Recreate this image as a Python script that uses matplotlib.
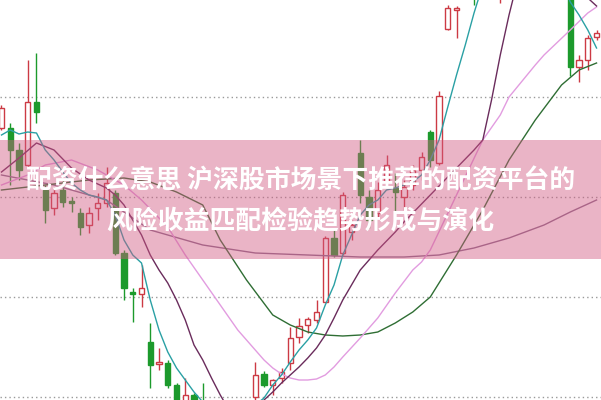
import numpy as np
import matplotlib
matplotlib.use('Agg')
import matplotlib.pyplot as plt

plt.rcParams['font.family'] = ['Noto Sans CJK SC', 'DejaVu Sans']

# candle data (index order), price units
opens  = [372, 372, 350, 335, 398, 310, 292, 310, 299, 287, 275, 292, 297, 307, 247, 208, 206,
          158, 136, 137, 115, 98, 105, 95, 82, 62, 72, 60, 78, 103, 126, 115, 122, 137, 163, 175,
          180, 198, 262, 247, 268, 347, 303, 287, 318, 312, 303, 315, 330, 368, 337, 471, 490,
          505, 540, 515, 552, 520, 550, 528, 562, 540, 575, 548, 528, 505, 433, 440, 463]
highs  = [395, 377, 357, 440, 447, 315, 313, 320, 303, 292, 293, 307, 333, 310, 250, 212, 235,
          177, 152, 140, 117, 122, 107, 117, 88, 82, 78, 86, 98, 138, 129, 121, 132, 173, 182, 183,
          200, 264, 270, 308, 280, 360, 310, 318, 345, 327, 320, 335, 348, 370, 409, 495, 494,
          548, 548, 560, 560, 555, 558, 568, 570, 582, 580, 555, 535, 510, 445, 465, 470]
lows   = [370, 315, 320, 332, 377, 277, 285, 293, 288, 265, 267, 280, 293, 245, 200, 178, 193,
          112, 130, 112, 90, 90, 85, 75, 58, 55, 50, 55, 72, 100, 113, 105, 117, 130, 157, 167,
          177, 198, 243, 245, 260, 297, 272, 283, 313, 287, 290, 310, 320, 333, 335, 470, 462,
          502, 495, 508, 515, 497, 518, 520, 530, 532, 538, 515, 503, 424, 418, 430, 460]
closes = [392, 350, 330, 398, 388, 290, 307, 298, 297, 273, 287, 297, 317, 247, 212, 206, 212,
          135, 138, 115, 95, 105, 90, 80, 65, 75, 58, 80, 92, 125, 115, 120, 128, 162, 174, 181,
          188, 262, 245, 305, 275, 305, 280, 310, 335, 308, 313, 330, 343, 340, 404, 492, 492,
          540, 512, 550, 525, 548, 525, 560, 538, 575, 545, 525, 510, 433, 440, 462, 467]

# moving averages: (candle index, value)
ma5_idx = [0, 1, 2, 3, 4, 5, 6, 7, 8, 9, 10, 11, 12, 13, 14, 15, 16, 17, 18, 19, 20, 21, 22, 23,
           24, 25, 26, 27, 28, 29, 30, 31, 32, 33, 34, 35, 36, 37, 38, 39, 40, 41, 42, 43, 44, 45,
           46, 47, 48, 49, 50, 51, 52, 53, 54, 55, 56, 58, 60, 62, 64, 65, 66, 67, 68]
ma5_val = [365, 370, 366, 368, 367, 350, 340, 328, 317, 310, 305, 303, 300, 285, 260, 245, 237,
           200, 170, 148, 132, 120, 108, 98, 85, 78, 75, 80, 88, 95, 102, 115, 125, 138, 150, 160,
           172, 195, 215, 245, 265, 285, 295, 300, 310, 312, 315, 318, 325, 340, 360, 393, 425,
           455, 487, 515, 540, 560, 565, 555, 520, 498, 485, 470, 452]
ma10_idx = [0, 2, 4, 6, 8, 10, 12, 13, 14, 15, 16, 17, 18, 19, 20, 21, 22, 23, 24, 25, 26, 27,
            28, 29, 30, 31, 32, 33, 34, 35, 36, 37, 38, 39, 40, 41, 42, 43, 44, 45, 46, 47, 48,
            49, 50, 51, 52, 53, 54, 55, 56, 57, 58, 59, 62, 65, 66, 67, 68]
ma10_val = [328, 342, 357, 350, 332, 320, 312, 305, 295, 280, 265, 245, 230, 217, 200, 180, 155,
            140, 122, 105, 90, 85, 88, 92, 100, 108, 117, 125, 133, 142, 152, 165, 182, 200, 215,
            230, 240, 250, 259, 268, 278, 287, 296, 305, 314, 323, 332, 341, 350, 360, 400, 445,
            485, 520, 560, 530, 515, 502, 494]
ma20_idx = [0, 3, 5, 8, 11, 14, 16, 18, 19, 21, 23, 25, 27, 29, 30, 31, 32, 33, 34, 35, 36, 37,
            38, 39, 41, 43, 45, 47, 48, 49, 52, 55, 57, 58, 61, 62, 65, 67, 68]
ma20_val = [315, 325, 335, 340, 330, 315, 300, 282, 273, 245, 220, 195, 170, 150, 140, 132, 126,
            122, 120, 120, 121, 125, 133, 143, 162, 182, 207, 230, 238, 250, 305, 360, 385, 403,
            435, 445, 470, 487, 493]
ma60_idx = [0, 5, 10, 14, 17, 20, 23, 25, 28, 31, 33, 35, 37, 39, 41, 43, 45, 47, 49, 52, 55,
            58, 61, 64, 66, 68]
ma60_val = [310, 315, 320, 322, 318, 308, 295, 260, 220, 185, 175, 168, 165, 164, 165, 168, 177,
            188, 203, 245, 290, 340, 380, 415, 430, 437]
ma120_idx = [0, 6, 12, 17, 23, 29, 35, 41, 46, 50, 54, 58, 62, 65, 68]
ma120_val = [325, 315, 300, 270, 255, 247, 245, 243, 243, 245, 252, 262, 275, 288, 300]

grid_levels = [403, 303, 203, 103]

title1 = '配资什么意思 沪深股市场景下推荐的配资平台的'
title2 = '风险收益匹配检验趋势形成与演化'

up_col = '#cc3a44'
down_col = '#1c9a2c'

fig = plt.figure(figsize=(6.01, 4.00), dpi=100)
ax = fig.add_axes([0, 0, 1, 1])
ax.set_xlim(-0.171, 68.51)
ax.set_ylim(100, 500)
ax.axis('off')

for g in grid_levels:
    ax.axhline(g, color='#9a9a9a', lw=1.0, linestyle=(0, (1, 2.2)), zorder=1)

x = np.arange(len(opens))
o = np.array(opens); c = np.array(closes); h = np.array(highs); l = np.array(lows)
up = c >= o
w = 0.6
for i in x:
    col = up_col if up[i] else down_col
    ax.vlines(i, l[i], h[i], color=col, lw=1.0, zorder=2)
    bottom = min(o[i], c[i])
    height = max(abs(c[i] - o[i]), 1.5)
    if up[i]:
        ax.bar(i, height, w, bottom=bottom, facecolor='white', edgecolor=col, lw=1.0, zorder=3)
    else:
        ax.bar(i, height, w, bottom=bottom, facecolor=col, edgecolor=col, lw=1.0, zorder=3)

ax.plot(ma120_idx, ma120_val, color='#8a6e8c', lw=1.0, zorder=4)
ax.plot(ma60_idx, ma60_val, color='#2f6e34', lw=1.0, zorder=4)
ax.plot(ma20_idx, ma20_val, color='#e29ce0', lw=1.0, zorder=4)
ax.plot(ma10_idx, ma10_val, color='#6a2c5c', lw=1.0, zorder=4)
ax.plot(ma5_idx, ma5_val, color='#2aa0a4', lw=1.0, zorder=4)

# pink banner
ax.axhspan(241, 360, color='#d15a82', alpha=0.45, lw=0, zorder=5)

fig.text(0.5, 0.55, title1, color='white', fontsize=18.6, fontweight='bold',
         ha='center', va='center', zorder=6)
fig.text(0.5, 0.445, title2, color='white', fontsize=18.6, fontweight='bold',
         ha='center', va='center', zorder=6)

fig.savefig('out.png', dpi=100)
